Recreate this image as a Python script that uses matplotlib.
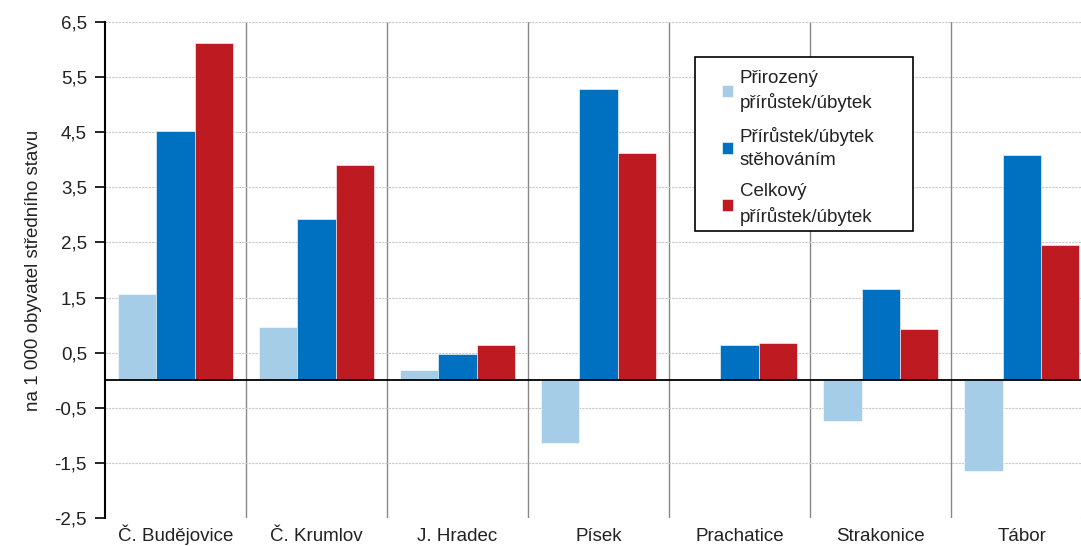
import numpy as np
import matplotlib
matplotlib.use('Agg')
from matplotlib import pyplot as plt
from matplotlib.patches import Rectangle

plt.rcParams['font.family'] = ['Liberation Sans', 'DejaVu Sans']

# Data
okresy = ['Č. Budějovice', 'Č. Krumlov', 'J. Hradec', 'Písek', 'Prachatice', 'Strakonice', 'Tábor']
prirozeny = [1.57, 0.96, 0.18, -1.14, 0.0, -0.74, -1.65]
stehovani = [4.52, 2.92, 0.47, 5.28, 0.64, 1.65, 4.08]
celkovy = [6.12, 3.90, 0.64, 4.12, 0.67, 0.93, 2.45]
nazvy = ['Přirozený\npřírůstek/úbytek', 'Přírůstek/úbytek\nstěhováním', 'Celkový\npřírůstek/úbytek']
barvy = ['#A6CDE8', '#0070C0', '#BE1A22']
yticks = np.arange(-2.5, 6.6, 1.0)

fs = 13.5
fig = plt.figure(figsize=(10.81, 5.46), dpi=100)
ax = fig.add_axes([0.0971, 0.0513, 0.9029, 0.9084])

x = np.arange(len(okresy))
w = 0.272
for i, (vals, nazev, barva) in enumerate(zip([prirozeny, stehovani, celkovy], nazvy, barvy)):
    ax.bar(x + (i - 1) * w, vals, w, color=barva, label=nazev, zorder=3,
           edgecolor='white', linewidth=0.4)

ax.set_ylim(-2.5, 6.5)
ax.set_xlim(-0.5, 6.42)
ax.set_yticks(yticks)
ax.set_yticklabels([f'{t:.1f}'.replace('.', ',') for t in yticks], fontsize=fs, color='#222222')
ax.yaxis.grid(True, color='#C8C8C8', linestyle=(0, (2, 1)), linewidth=0.8, zorder=0)
ax.axhline(0, color='black', linewidth=1.3, zorder=4)

# svisle oddelovace mezi okresy
for xs in x[:-1] + 0.5:
    ax.axvline(xs, color='#888888', linewidth=1.0, zorder=1)

ax.set_xticks(x)
ax.set_xticklabels(okresy, fontsize=fs, color='#222222', va='baseline')
ax.tick_params(axis='x', length=0, pad=16.5)
ax.tick_params(axis='y', length=7, width=1.2, direction='out', pad=6)

for s in ['top', 'right', 'bottom']:
    ax.spines[s].set_visible(False)
ax.spines['left'].set_linewidth(1.5)

ax.set_ylabel('na 1 000 obyvatel středního stavu', fontsize=fs, color='#222222', labelpad=9)

# ramecek legendy
ax.add_patch(Rectangle((0.6045, 0.5786), 0.2235, 0.3504, transform=ax.transAxes,
                       facecolor='white', edgecolor='black', linewidth=1.2, zorder=5))
leg = ax.legend(loc='upper left', fontsize=fs, frameon=False,
                handlelength=0.6, handleheight=0.6, handletextpad=0.35,
                labelspacing=0.78, borderpad=0, borderaxespad=0)
leg.set_bbox_to_anchor((0.632, 0.904), transform=ax.transAxes)
for t in leg.get_texts():
    t.set_linespacing(1.45)
    t.set_color('#222222')
leg.set_zorder(6)

fig.savefig('out.png', dpi=100)
